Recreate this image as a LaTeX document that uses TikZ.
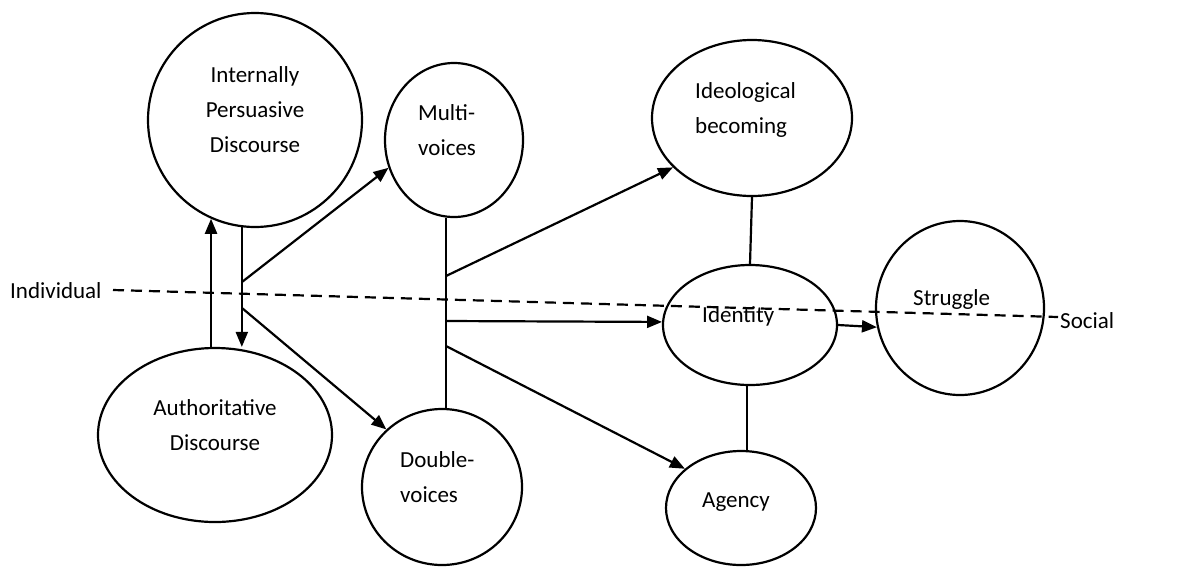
\documentclass[tikz,border=0pt]{standalone}
\usepackage{fontspec}
\setmainfont{Carlito}
\usetikzlibrary{shapes.geometric,arrows.meta}
\begin{document}
\begin{tikzpicture}[x=1pt,y=-1pt,
  bubble/.style={ellipse,draw,line width=2.2pt,inner sep=0pt},
  lbl/.style={inner sep=0pt,font=\fontsize{23}{35}\selectfont},
  conn/.style={line width=2.2pt},
  arr/.style={line width=2.2pt,-{Triangle[length=15pt,width=12pt]}},
  dashline/.style={line width=2.2pt,dash pattern=on 11pt off 7pt}]
\useasboundingbox (0,0) rectangle (1196,566);
% bubbles
\node[bubble,minimum width=214pt,minimum height=214pt] (ipd) at (255,120) {};
\node[bubble,minimum width=138pt,minimum height=154pt] (mv) at (454,140) {};
\node[bubble,minimum width=200pt,minimum height=156pt] (ib) at (752,118) {};
\node[bubble,minimum width=174pt,minimum height=120pt] (id) at (750,325) {};
\node[bubble,minimum width=168pt,minimum height=174pt] (st) at (960,308) {};
\node[bubble,minimum width=150pt,minimum height=114pt] (ag) at (741,508) {};
\node[bubble,minimum width=234pt,minimum height=174pt] (ad) at (215,435) {};
\node[bubble,minimum width=160pt,minimum height=156pt] (dv) at (442,487) {};
% labels (base anchor = baseline of the last line)
\node[lbl,anchor=base,align=center] (tipd) at (255,152) {Internally\\Persuasive\\Discourse};
\node[lbl,anchor=base west,align=left] (tmv) at (418,155) {Multi-\\voices};
\node[lbl,anchor=base west,align=left] (tib) at (695,133) {Ideological\\becoming};
\node[lbl,anchor=base west] (tid) at (702,322) {Identity};
\node[lbl,anchor=base west] (tst) at (913,305) {Struggle};
\node[lbl,anchor=base west] (tag) at (702,507) {Agency};
\node[lbl,anchor=base,align=center] (tad) at (215,450) {Authoritative\\Discourse};
\node[lbl,anchor=base west,align=left] (tdv) at (400,502) {Double-\\voices};
\node[lbl,anchor=base west] (ind) at (10,298) {Individual};
\node[lbl,anchor=base west] (soc) at (1060,328) {Social};
% dividing line
\coordinate (dl) at (113,290);
\coordinate (dr) at (1058,317);
\draw[dashline] (dl) -- (dr);
% junctions
\coordinate (j1) at (242,282);
\coordinate (j2) at (242,308);
\coordinate (j3) at (446,276);
\coordinate (j4) at (446,321);
\coordinate (j5) at (446,346);
% connectors
\draw[arr] (ad.north -| ipd.-114) -- (ipd.-114);
\draw[arr] (ipd.-97) -- (ad.north -| ipd.-97);
\draw[arr] (j1) -- (mv.203);
\draw[arr] (j2) -- (dv.134);
\draw[conn] (mv.-96) -- (dv.north -| mv.-96);
\draw[arr] (j3) -- (ib.212);
\draw[arr] (j4) -- (id.178);
\draw[arr] (j5) -- (ag.145);
\draw[conn] (ib.south) -- (id.north);
\draw[conn] (id.south -| ag.84) -- (ag.84);
\draw[arr] (id.east) -- (st.193);
\end{tikzpicture}
\end{document}
